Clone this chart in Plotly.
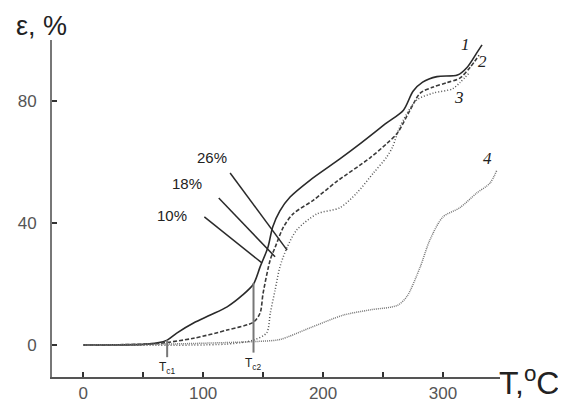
import plotly.graph_objects as go

# Curve 1 (solid)
T1 = [0, 50, 62, 70, 78, 92, 106, 120, 133, 142, 147.5, 154, 158, 164, 172.5, 189, 214, 231, 253, 267, 275, 283, 295, 312, 320, 328, 332.5]
E1 = [0, 0.2, 0.7, 1.6, 3.9, 7.2, 9.8, 12.5, 16.4, 20, 25.6, 32, 38.7, 44, 48.5, 54, 61, 66, 72.8, 77, 83.2, 86.2, 88, 88.5, 91, 95.7, 98.4]
# Curve 2 (dashed)
T2 = [0, 62, 92, 120, 142, 147.5, 150, 156, 160, 167, 175, 192, 211, 239, 253, 262, 272.5, 281, 292, 303, 314, 322.5, 330]
E2 = [0, 0.5, 2.2, 4.9, 7.5, 10.5, 17, 28, 32, 38.7, 43, 47.5, 53.5, 61.3, 66, 69.5, 77, 82.6, 84.6, 86, 87.5, 91, 95]
# Curve 3 (dotted)
T3 = [0, 120, 142, 153, 156, 160, 164, 170, 178, 195, 214, 228, 242, 253, 258, 264, 278, 292, 308, 314, 322.5]
E3 = [0, 0.3, 1.6, 4, 10.5, 18, 25.6, 32, 37.7, 43, 45, 49.8, 56.4, 61.6, 65, 71.5, 80.3, 82.6, 84, 86, 89.5]
# Curve 4 (light dotted)
T4 = [0, 70, 120, 147.5, 164, 189, 217, 239, 262, 270, 281, 289, 300, 314, 328, 339, 345]
E4 = [0, 0.3, 0.8, 1.2, 1.8, 5.6, 9.8, 11.5, 13, 16, 25.6, 34.4, 42, 45, 49.8, 53, 57.4]

curve_labels = ["1", "2", "3", "4"]
curve_label_T = [319, 333, 313, 337]
curve_label_E = [98.4, 92.8, 81, 61.3]

# concentration leader lines: label, label position, line start, line end
conc_labels = ["26%", "18%", "10%"]
conc_label_T = [107, 86.5, 74]
conc_label_E = [61.6, 53, 42.3]
conc_start_T = [122.5, 113, 101]
conc_start_E = [56.4, 48.2, 42]
conc_end_T = [170, 160, 149]
conc_end_E = [31.1, 28.9, 26.9]

# critical temperatures
tc_labels = ["T<sub>c1</sub>", "T<sub>c2</sub>"]
tc_T = [70, 142]
tc_top = [1.6, 20.3]
tc_bottom = [-4, -2.5]

x_ticks = [0, 50, 100, 150, 200, 250, 300]
x_ticktext = ["0", "", "100", "", "200", "", "300"]
y_ticks = [0, 40, 80, 100]
y_ticktext = ["0", "40", "80", ""]

FONT = "Liberation Sans"

fig = go.Figure()
fig.add_trace(go.Scatter(x=T1, y=E1, mode="lines", line=dict(color="#2a2a2a", width=1.6, shape="spline", smoothing=0.8)))
fig.add_trace(go.Scatter(x=T2, y=E2, mode="lines", line=dict(color="#3a3a3a", width=1.6, dash="4px,2px", shape="spline", smoothing=0.8)))
fig.add_trace(go.Scatter(x=T3, y=E3, mode="lines", line=dict(color="#555555", width=1.5, dash="1px,2px", shape="spline", smoothing=0.8)))
fig.add_trace(go.Scatter(x=T4, y=E4, mode="lines", line=dict(color="#777777", width=1.5, dash="1px,1px", shape="spline", smoothing=0.8)))

for i in range(len(tc_T)):
    fig.add_shape(type="line", x0=tc_T[i], x1=tc_T[i], y0=tc_bottom[i], y1=tc_top[i],
                  line=dict(color="#777777", width=2))
    fig.add_annotation(x=tc_T[i], y=tc_bottom[i], text=tc_labels[i], showarrow=False,
                       yanchor="top", yshift=-1, font=dict(size=12, color="#222222", family=FONT))

for i in range(len(conc_labels)):
    fig.add_shape(type="line", x0=conc_start_T[i], x1=conc_end_T[i], y0=conc_start_E[i], y1=conc_end_E[i],
                  line=dict(color="#2a2a2a", width=1.5))
    fig.add_annotation(x=conc_label_T[i], y=conc_label_E[i], text=conc_labels[i], showarrow=False,
                       font=dict(size=15, color="#222222", family=FONT))

for i in range(len(curve_labels)):
    fig.add_annotation(x=curve_label_T[i], y=curve_label_E[i], text="<i>" + curve_labels[i] + "</i>",
                       showarrow=False, font=dict(size=17, color="#222222", family="Liberation Serif"))

fig.add_annotation(xref="paper", yref="paper", x=1.0, y=0, xanchor="left", yanchor="middle", xshift=-3, yshift=-4,
                   text="T,<sup>o</sup>C", showarrow=False,
                   font=dict(size=32, color="#222222", family=FONT))
fig.add_annotation(xref="paper", yref="paper", x=0, y=1.0, xanchor="left", yanchor="middle", xshift=-38, yshift=14,
                   text="ε, %", showarrow=False,
                   font=dict(size=27, color="#222222", family=FONT))

# The page body has an 8px default margin, so the figure is drawn 8px smaller
fig.update_layout(
    width=558, height=395,
    margin=dict(l=44, r=66, t=32, b=26, autoexpand=False),
    paper_bgcolor="white", plot_bgcolor="white",
    showlegend=False,
    xaxis=dict(range=[-26, 347.5], tickvals=x_ticks, ticktext=x_ticktext, ticks="inside", ticklen=5,
               tickwidth=1.5, tickcolor="#333", showline=True, linewidth=2, linecolor="#555",
               showgrid=False, zeroline=False, automargin=False,
               tickfont=dict(size=17, color="#555", family=FONT)),
    yaxis=dict(range=[-10.5, 100], tickvals=y_ticks, ticktext=y_ticktext, ticks="inside", ticklen=5,
               tickwidth=1.5, tickcolor="#333", showline=True, linewidth=2, linecolor="#777",
               showgrid=False, zeroline=False, automargin=False, ticklabelstandoff=10,
               tickfont=dict(size=17, color="#555", family=FONT)),
)

fig.write_html("out.html")
